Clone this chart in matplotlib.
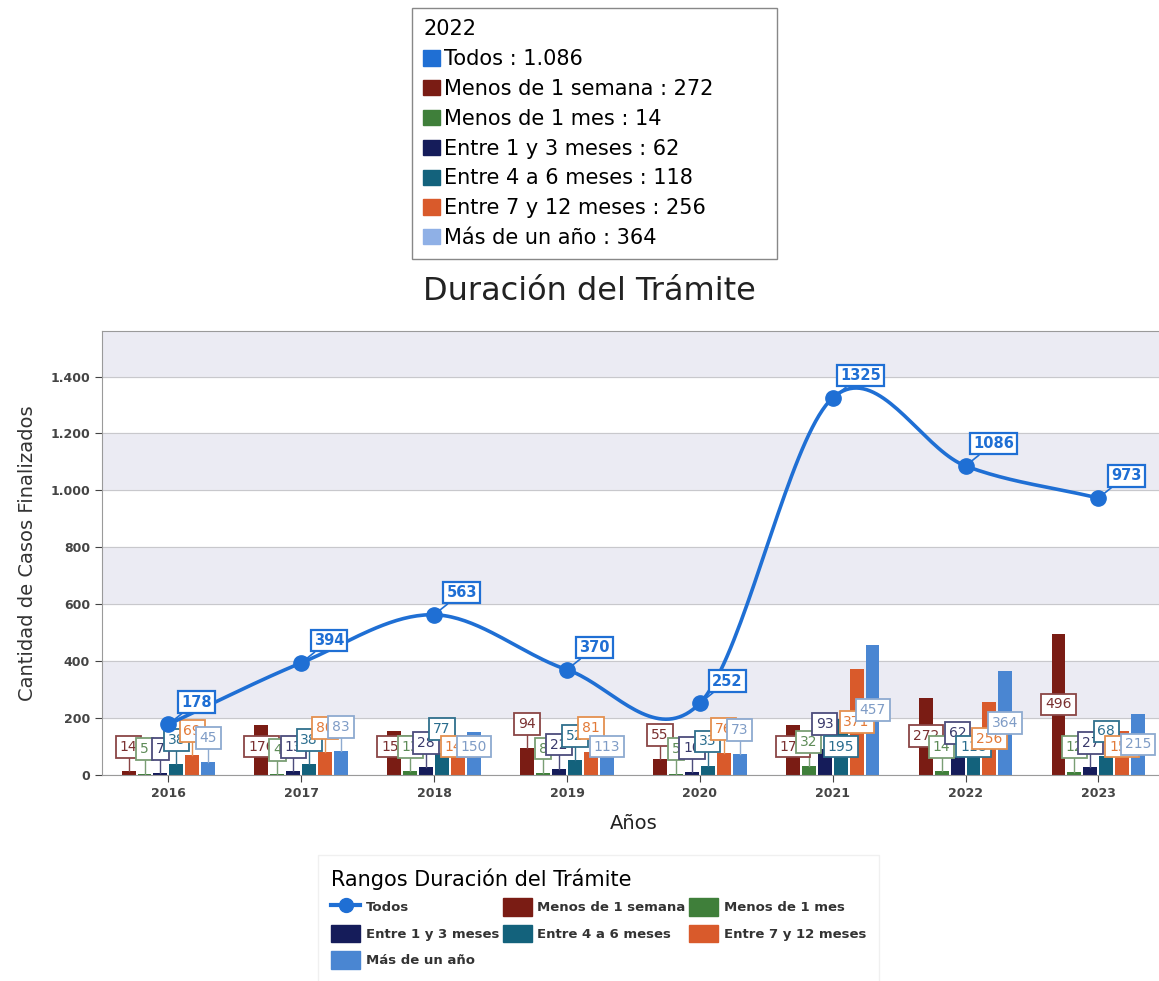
import numpy as np
import matplotlib.pyplot as plt
from matplotlib.patches import Patch
from matplotlib.lines import Line2D
from matplotlib.ticker import FuncFormatter

plt.rcParams['font.family'] = ['DejaVu Sans']

# Datos
anios = ['2016', '2017', '2018', '2019', '2020', '2021', '2022', '2023']
todos = [178, 394, 563, 370, 252, 1325, 1086, 973]
menos_semana = [14, 176, 155, 94, 55, 177, 272, 496]
menos_mes = [5, 4, 13, 8, 5, 32, 14, 12]
entre_1_3 = [7, 13, 28, 22, 10, 93, 62, 27]
entre_4_6 = [38, 38, 77, 52, 33, 195, 118, 68]
entre_7_12 = [69, 80, 140, 81, 76, 371, 256, 155]
mas_anio = [45, 83, 150, 113, 73, 457, 364, 215]

nombres = ['Menos de 1 semana', 'Menos de 1 mes', 'Entre 1 y 3 meses',
           'Entre 4 a 6 meses', 'Entre 7 y 12 meses', 'Más de un año']
series = [menos_semana, menos_mes, entre_1_3, entre_4_6, entre_7_12, mas_anio]
colores = ['#7a1c14', '#3f7f3a', '#151c5a', '#13627c', '#d95a2b', '#4a86d2']
bordes = ['#8a4545', '#7a9e74', '#4c4c7c', '#2f6f8c', '#e4904f', '#8eaad0']
textos = ['#7a3030', '#5e8c58', '#3a3a6c', '#2a6d8e', '#e27a38', '#7f9cc6']
azul = '#1f6fd4'
anio_tooltip = '2022'


def miles(v, pos=None):
    return f'{int(v):,}'.replace(',', '.')


def catmull_rom(x, y, n=40):
    x = np.asarray(x, float)
    y = np.asarray(y, float)
    m = np.zeros_like(y)
    m[1:-1] = (y[2:] - y[:-2]) / 2
    m[0] = y[1] - y[0]
    m[-1] = y[-1] - y[-2]
    xs, ys = [], []
    for i in range(len(x) - 1):
        t = np.linspace(0, 1, n)
        h00 = 2 * t**3 - 3 * t**2 + 1
        h10 = t**3 - 2 * t**2 + t
        h01 = -2 * t**3 + 3 * t**2
        h11 = t**3 - t**2
        xs.append(x[i] + t * (x[i + 1] - x[i]))
        ys.append(h00 * y[i] + h10 * m[i] + h01 * y[i + 1] + h11 * m[i + 1])
    return np.concatenate(xs), np.concatenate(ys)


fig = plt.figure(figsize=(11.59, 9.81), dpi=100)
ax = fig.add_axes([0.088, 0.21, 0.917, 0.4526])

x = np.arange(len(anios))
ancho = 0.105
paso = 0.12

# bandas de fondo
ymax = 1560
for y0 in [200, 600, 1000, 1400]:
    ax.axhspan(y0, min(y0 + 200, ymax), color='#ebebf3', zorder=0)
for y0 in range(0, 1600, 200):
    ax.axhline(y0, color='#c8c8cc', lw=0.8, zorder=0.5)

# barras
for k, (nom, vals) in enumerate(zip(nombres, series)):
    xb = x + (k - 2.5) * paso
    ax.bar(xb, vals, width=ancho, color=colores[k], zorder=2, label=nom)
    for xi, v in zip(xb, vals):
        ly = v + 85 if v < 95 else max(v / 2, 100)
        if ly > v:
            ax.plot([xi, xi], [v, ly], color=bordes[k], lw=1, zorder=3)
        ax.text(xi, ly, str(v), ha='center', va='center', fontsize=10,
                color=textos[k], zorder=4,
                bbox=dict(boxstyle='square,pad=0.28', fc='white',
                          ec=bordes[k], lw=1.3))

# linea Todos
xs, ys = catmull_rom(x, todos)
ax.plot(xs, ys, color=azul, lw=2.6, zorder=5)
ax.plot(x, todos, 'o', color=azul, ms=11, zorder=6)
for xi, v in zip(x, todos):
    ax.annotate(str(v), (xi, v), xytext=(20, 16), textcoords='offset points',
                ha='center', va='center', fontsize=10.5, color=azul,
                fontweight='bold', zorder=7,
                bbox=dict(boxstyle='square,pad=0.22', fc='white', ec=azul, lw=1.6),
                arrowprops=dict(arrowstyle='-', color=azul, lw=1.2,
                                shrinkA=0, shrinkB=0))

ax.set_xlim(-0.5, len(anios) - 0.5)
ax.set_ylim(0, ymax)
ax.set_xticks(x)
ax.set_xticklabels(anios)
ax.set_yticks(range(0, 1600, 200))
ax.yaxis.set_major_formatter(FuncFormatter(miles))
ax.tick_params(axis='both', labelsize=9, colors='#444444', length=5, width=0.8)
for lab in ax.get_xticklabels() + ax.get_yticklabels():
    lab.set_fontweight('bold')
for s in ['left', 'bottom', 'top']:
    ax.spines[s].set_color('#9a9a9a')
ax.spines['right'].set_visible(False)

ax.set_ylabel('Cantidad de Casos Finalizados', fontsize=14, color='#333333', labelpad=10)
ax.set_xlabel('Años', fontsize=14, color='#222222', labelpad=10)
fig.text(0.509, 0.703, 'Duración del Trámite', ha='center', va='center',
         fontsize=23, color='#222222')

# leyenda superior (2022)
i22 = anios.index(anio_tooltip)
tip_handles = [Patch(color=azul)] + [Patch(color=c) for c in colores[:5]] + [Patch(color='#8fb0e6')]
tip_labels = [f'Todos : {miles(todos[i22])}'] + \
    [f'{n} : {miles(s[i22])}' for n, s in zip(nombres, series)]
leg1 = fig.legend(tip_handles, tip_labels, title=anio_tooltip, loc='upper left',
                  bbox_to_anchor=(412 / 1159, 1 - 8 / 981 - 0.01, 365 / 1159, 0.01),
                  mode='expand', fontsize=15, title_fontsize=15,
                  alignment='left', handlelength=0.8, handleheight=0.75,
                  handletextpad=0.2, labelspacing=0.47, borderpad=0.55,
                  borderaxespad=0, fancybox=False, edgecolor='#888888',
                  framealpha=1)
leg1.get_frame().set_linewidth(1)

# leyenda inferior
h_todos = Line2D([], [], color=azul, lw=3, marker='o', ms=10)
hs = [Patch(color=c) for c in colores]
orden_h = [h_todos, hs[2], hs[5], hs[0], hs[3], hs[1], hs[4]]
orden_l = ['Todos', nombres[2], nombres[5], nombres[0], nombres[3], nombres[1], nombres[4]]
leg2 = fig.legend(orden_h, orden_l, title='Rangos Duración del Trámite',
                  loc='upper left', bbox_to_anchor=(318 / 1159, 1 - 855 / 981),
                  ncol=3, fontsize=9.5, title_fontsize=15, alignment='left',
                  handlelength=2.2, handleheight=1.7, handletextpad=0.4,
                  columnspacing=0.3, labelspacing=0.65, borderpad=1.0,
                  borderaxespad=0, fancybox=False, edgecolor='#f0f0f0',
                  framealpha=1)
for t in leg2.get_texts():
    t.set_fontweight('bold')
    t.set_color('#333333')

fig.savefig('out.png', dpi=100)
